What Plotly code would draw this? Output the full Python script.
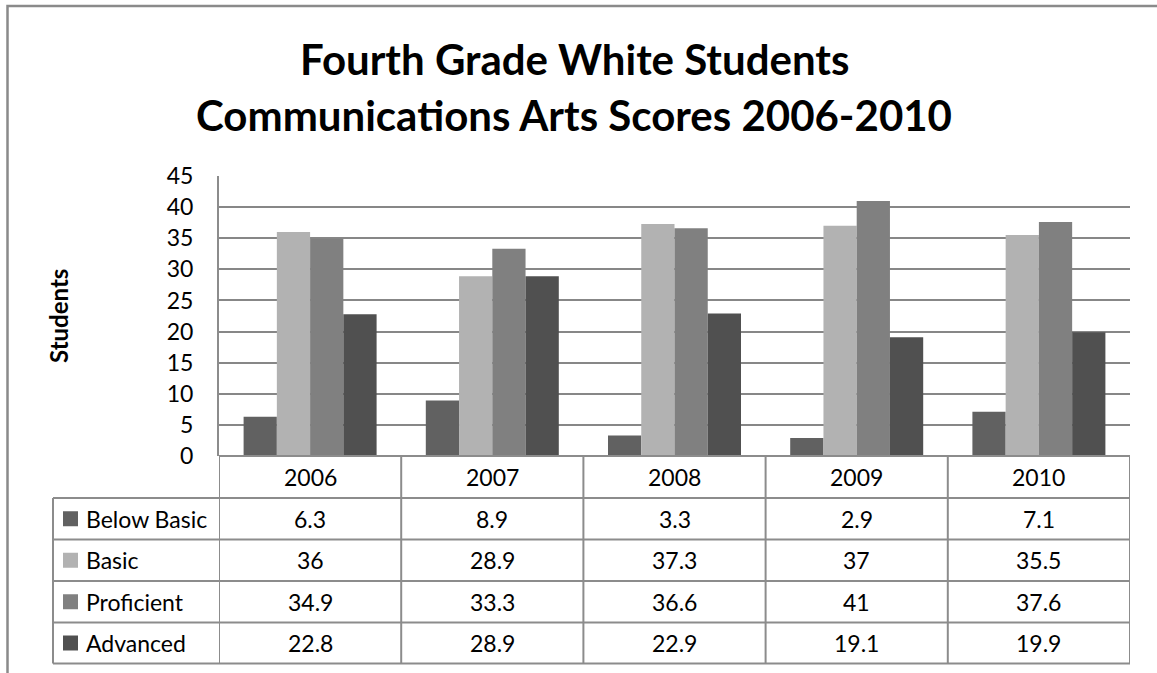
import plotly.graph_objects as go

# Data
years = ["2006", "2007", "2008", "2009", "2010"]
below_basic = [6.3, 8.9, 3.3, 2.9, 7.1]
basic = [36, 28.9, 37.3, 37, 35.5]
proficient = [34.9, 33.3, 36.6, 41, 37.6]
advanced = [22.8, 28.9, 22.9, 19.1, 19.9]

series_names = ["Below Basic", "Basic", "Proficient", "Advanced"]
series_values = [below_basic, basic, proficient, advanced]
series_colors = ["#616161", "#b2b2b2", "#808080", "#505050"]

W, H = 1157, 673
FONT = "Lato"
GRID = "#878787"
LINE = "#8c8c8c"

# Pixel layout helpers (paper coords, origin bottom-left)
def px(x):
    return x / W

def py(y):
    return 1 - y / H

plot_left, plot_right = 219, 1130
plot_top, plot_bottom = 176, 456
row_edges = [456, 498, 539.5, 581, 622.5, 663.5]
label_left = 53

fig = go.Figure()
for name, vals, col in zip(series_names, series_values, series_colors):
    fig.add_trace(go.Bar(x=years, y=vals, name=name, marker=dict(color=col, line=dict(width=0)),
                         showlegend=False, hoverinfo="x+y+name"))

shapes = []
annotations = []

# Outer chart border
shapes.append(dict(type="rect", xref="paper", yref="paper", x0=px(7.5), x1=px(W + 20),
                   y0=py(H + 20), y1=py(6), line=dict(color="#8a8a8a", width=2.5)))

# Table horizontal lines
for i, y in enumerate(row_edges):
    x0 = plot_left if i == 0 else label_left
    shapes.append(dict(type="line", xref="paper", yref="paper", x0=px(x0), x1=px(plot_right),
                       y0=py(y), y1=py(y), line=dict(color=LINE, width=2)))

# Table vertical lines at category boundaries (category index +/- 0.5)
n = len(years)
for k in range(n + 1):
    shapes.append(dict(type="line", xref="x", yref="paper", x0=k - 0.5, x1=k - 0.5,
                       y0=py(row_edges[-1]), y1=py(row_edges[0]), line=dict(color=LINE, width=2)))
# Label column left edge
shapes.append(dict(type="line", xref="paper", yref="paper", x0=px(label_left), x1=px(label_left),
                   y0=py(row_edges[-1]), y1=py(row_edges[1]), line=dict(color=LINE, width=2)))

# Header: years, placed at their category index on the x axis
for i, yr in enumerate(years):
    annotations.append(dict(x=i, xref="x", y=py((row_edges[0] + row_edges[1]) / 2), yref="paper",
                            text=yr, showarrow=False, xanchor="center", yanchor="middle",
                            font=dict(family=FONT, size=23, color="#000000")))

# Rows: legend key, label and values
for r, (name, vals, col) in enumerate(zip(series_names, series_values, series_colors)):
    yc = (row_edges[r + 1] + row_edges[r + 2]) / 2
    shapes.append(dict(type="rect", xref="paper", yref="paper", x0=px(63), x1=px(78),
                       y0=py(yc + 7.5), y1=py(yc - 7.5), fillcolor=col, line=dict(width=0)))
    annotations.append(dict(x=px(84), xref="paper", y=py(yc), yref="paper", text=name,
                            showarrow=False, xanchor="left", yanchor="middle",
                            font=dict(family=FONT, size=23, color="#000000")))
    for i, v in enumerate(vals):
        annotations.append(dict(x=i, xref="x", y=py(yc), yref="paper", text=f"{v:g}",
                                showarrow=False, xanchor="center", yanchor="middle",
                                font=dict(family=FONT, size=23, color="#000000")))

# Title
title_font = dict(family=FONT, size=42, color="#000000", weight="bold")
annotations.append(dict(x=px(574), xref="paper", y=py(59), yref="paper",
                        text="Fourth Grade White Students", showarrow=False,
                        xanchor="center", yanchor="middle", font=title_font))
annotations.append(dict(x=px(574), xref="paper", y=py(115), yref="paper",
                        text="Communications Arts Scores 2006-2010", showarrow=False,
                        xanchor="center", yanchor="middle", font=title_font))

# Y axis title
annotations.append(dict(x=px(58), xref="paper", y=py(316), yref="paper", text="Students",
                        textangle=-90, showarrow=False, xanchor="center", yanchor="middle",
                        font=dict(family=FONT, size=24, color="#000000", weight="bold")))

fig.update_layout(
    width=W, height=H,
    margin=dict(l=0, r=0, t=0, b=0, autoexpand=False),
    paper_bgcolor="white", plot_bgcolor="white",
    barmode="group", bargap=0.27, bargroupgap=0,
    shapes=shapes, annotations=annotations,
    xaxis=dict(domain=[px(plot_left), px(plot_right)], showticklabels=False, ticks="",
               showgrid=False, zeroline=False, showline=False, range=[-0.5, 4.5],
               type="category"),
    yaxis=dict(domain=[py(plot_bottom), py(plot_top)], range=[0, 45], dtick=5,
               showgrid=True, gridcolor=GRID, gridwidth=2, zeroline=False,
               showline=True, linecolor=LINE, linewidth=2, ticks="",
               tickfont=dict(family=FONT, size=23, color="#000000"), ticklabelstandoff=19),
)

fig.write_html("out.html")
